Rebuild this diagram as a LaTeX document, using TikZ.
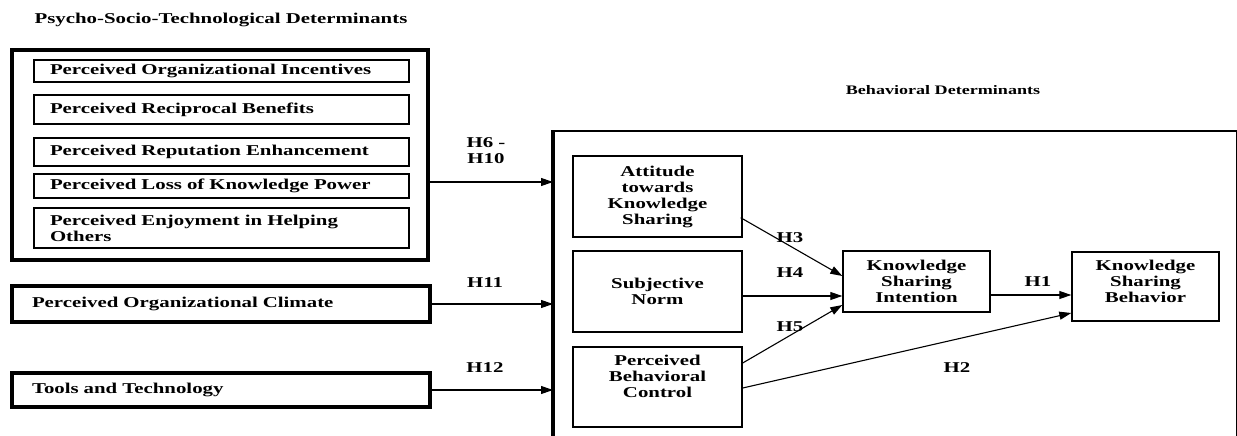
\documentclass[tikz,border=0pt]{standalone}
\usepackage{fontspec}
\setmainfont{Liberation Serif}[FakeStretch=1.39]
\usetikzlibrary{arrows.meta}

\tikzset{
    caja/.style={draw, line width=1.4pt, inner sep=0pt, align=center},
    factor/.style={caja, align=left, inner xsep=16pt, text width=343pt},
    grueso/.style={draw, line width=3.5pt, inner ysep=0pt, inner xsep=20pt, text width=378pt, align=left},
    flecha/.style={-{Triangle[length=12pt,width=8pt]}, line width=1.1pt},
    hip/.style={inner sep=0pt, align=center}
}

\begin{document}
\begin{tikzpicture}[x=1pt, y=-1pt, font=\bfseries\fontsize{15}{16}\selectfont]
        \useasboundingbox (0,0) rectangle (1237,436);
        \clip (0,0) rectangle (1237,436);

        % Titulos
        \node[hip] (tpst) at (221,20) {Psycho-Socio-Technological Determinants};
        \node[hip, font=\bfseries\fontsize{13}{15}\selectfont] (tbd) at (943,90) {Behavioral Determinants};

        % Grupo izquierdo
        \node[draw, line width=3.5pt, minimum width=416pt, minimum height=210pt] (psy) at (220,155) {};
        \node[factor, minimum height=22pt] (poi) at (221.5,71) {Perceived Organizational Incentives};
        \node[factor, minimum height=29pt] (prb) at (221.5,109.5) {Perceived Reciprocal Benefits};
        \node[factor, minimum height=28pt] (pre) at (221.5,152) {Perceived Reputation Enhancement};
        \node[factor, minimum height=24pt] (plk) at (221.5,186) {Perceived Loss of Knowledge Power};
        \node[factor, minimum height=40pt] (peh) at (221.5,228) {Perceived Enjoyment in Helping\\Others};

        % Clima y tecnologia
        \node[grueso, minimum height=36pt] (poc) at (221,304) {Perceived Organizational Climate};
        \node[grueso, minimum height=34pt] (tt) at (221,390) {Tools and Technology};

        % Caja de determinantes conductuales
        \node[draw, line width=1.5pt, minimum width=683pt, minimum height=330pt, anchor=north west] (bd) at (553,130) {};
        \draw[line width=3.5pt] (bd.north west) -- (bd.south west);

        % Constructos
        \node[caja, minimum width=169pt, minimum height=81pt] (att) at (657.5,196.5) {Attitude\\towards\\Knowledge\\Sharing};
        \node[caja, minimum width=169pt, minimum height=81pt] (sn) at (657.5,291.5) {Subjective\\Norm};
        \node[caja, minimum width=169pt, minimum height=80pt,
              label={[hip, yshift=11pt]center:Perceived\\Behavioral\\Control}] (pbc) at (657.5,387) {};
        \node[caja, minimum width=147pt, minimum height=61pt] (ksi) at (916.5,281.5) {Knowledge\\Sharing\\Intention};
        \node[caja, minimum width=147pt, minimum height=69pt,
              label={[hip, yshift=5pt]center:Knowledge\\Sharing\\Behavior}] (ksb) at (1145.5,286.5) {};

        % Flechas hacia la caja
        \draw[flecha] ([yshift=-27pt]psy.east) -- ([yshift=-27pt]psy.east -| bd.west);
        \draw[flecha] (poc.east) -- (poc.east -| bd.west);
        \draw[flecha] (tt.east) -- (tt.east -| bd.west);

        % Flechas internas
        \draw[flecha] ([xshift=-2pt, yshift=20pt]att.south east) -- ([yshift=5.5pt]ksi.west);
        \draw[flecha] ([yshift=-4.5pt]sn.east) -- ([yshift=-4.5pt]sn.east -| ksi.west);
        \draw[flecha] ([yshift=24pt]pbc.east) -- ([yshift=-23.5pt]ksi.west);
        \draw[flecha] ([yshift=-13.5pt]ksi.east) -- ([yshift=-13.5pt]ksi.east -| ksb.west);
        \draw[flecha] ([yshift=-1pt]pbc.east) -- ([yshift=-26.5pt]ksb.west);

        % Hipotesis
        \node[hip] (h610) at (486,151) {H6 -\\H10};
        \node[hip] (h11) at (485,283) {H11};
        \node[hip] (h12) at (485,368) {H12};
        \node[hip] (h3) at (790,238) {H3};
        \node[hip] (h4) at (790,273) {H4};
        \node[hip] (h5) at (790,327) {H5};
        \node[hip] (h1) at (1038,282) {H1};
        \node[hip] (h2) at (957,368) {H2};
    \end{tikzpicture}
\end{document}
